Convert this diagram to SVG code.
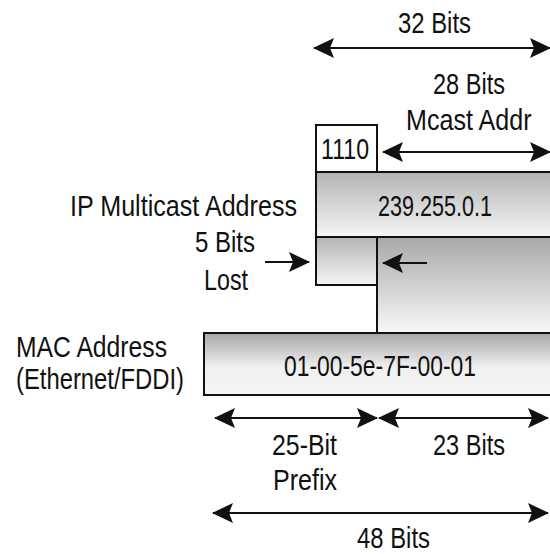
<svg xmlns="http://www.w3.org/2000/svg" width="550" height="554" viewBox="0 0 550 554">
  <style>
    text { font-family: "Liberation Sans Narrow", "Liberation Sans", Arial, sans-serif; font-size: 30px; fill: #111; }
    .box { stroke: #111; stroke-width: 2; }
    .dim { stroke: #111; stroke-width: 2; fill: none; }
  </style>
  <defs>
    <linearGradient id="gIp" x1="0" y1="0" x2="0" y2="1">
      <stop offset="0" stop-color="#b4b4b4"/>
      <stop offset="1" stop-color="#f6f6f6"/>
    </linearGradient>
    <linearGradient id="gTall" x1="0" y1="0" x2="0" y2="1">
      <stop offset="0" stop-color="#a8a8a8"/>
      <stop offset="1" stop-color="#f8f8f8"/>
    </linearGradient>
    <linearGradient id="gMac" x1="0" y1="0" x2="0" y2="1">
      <stop offset="0" stop-color="#a6a6a6"/>
      <stop offset="0.55" stop-color="#f0f0f0"/>
      <stop offset="1" stop-color="#f6f6f6"/>
    </linearGradient>
    <marker id="ah" viewBox="0 -10 22 20" refX="21" refY="0" markerWidth="22" markerHeight="20" markerUnits="userSpaceOnUse" orient="auto-start-reverse">
      <path d="M22,0 L1,-10 L5,0 L1,10 Z" fill="#111"/>
    </marker>
  </defs>

  <!-- IP multicast address field -->
  <g id="prefix1110">
    <rect class="box" x="316" y="125" width="61" height="47" fill="#fff"/>
    <text x="321" y="159" textLength="48" lengthAdjust="spacingAndGlyphs">1110</text>
  </g>
  <g id="ipAddress">
    <rect class="box" x="316" y="172" width="240" height="65" fill="url(#gIp)"/>
    <text x="378" y="216" textLength="114" lengthAdjust="spacingAndGlyphs">239.255.0.1</text>
  </g>
  <g id="lostBits">
    <rect class="box" x="316" y="237" width="61" height="48" fill="url(#gIp)"/>
  </g>
  <g id="lowBits">
    <rect class="box" x="377" y="237" width="180" height="96" fill="url(#gTall)"/>
  </g>

  <!-- MAC address field -->
  <g id="macAddress">
    <rect class="box" x="204" y="333" width="352" height="62" fill="url(#gMac)"/>
    <text x="284" y="376" textLength="192" lengthAdjust="spacingAndGlyphs">01-00-5e-7F-00-01</text>
  </g>

  <!-- side labels -->
  <g id="labels">
    <text x="70" y="216" textLength="227" lengthAdjust="spacingAndGlyphs">IP Multicast Address</text>
    <text x="195" y="252" textLength="60" lengthAdjust="spacingAndGlyphs">5 Bits</text>
    <text x="204" y="290" textLength="44" lengthAdjust="spacingAndGlyphs">Lost</text>
    <text x="16" y="357" textLength="151" lengthAdjust="spacingAndGlyphs">MAC Address</text>
    <text x="16" y="389" textLength="168" lengthAdjust="spacingAndGlyphs">(Ethernet/FDDI)</text>
    <text x="398" y="33" textLength="73" lengthAdjust="spacingAndGlyphs">32 Bits</text>
    <text x="433" y="94" textLength="72" lengthAdjust="spacingAndGlyphs">28 Bits</text>
    <text transform="translate(406,130) scale(0.837,1)" x="0" y="0">Mcast Addr</text>
    <text x="272" y="455" textLength="65" lengthAdjust="spacingAndGlyphs">25-Bit</text>
    <text x="273" y="490" textLength="64" lengthAdjust="spacingAndGlyphs">Prefix</text>
    <text x="433" y="455" textLength="72" lengthAdjust="spacingAndGlyphs">23 Bits</text>
    <text x="357" y="548" textLength="73" lengthAdjust="spacingAndGlyphs">48 Bits</text>
  </g>

  <!-- dimension arrows -->
  <g id="connectors">
    <line class="dim" x1="314" y1="48" x2="550" y2="48" marker-start="url(#ah)" marker-end="url(#ah)"/>
    <line class="dim" x1="383" y1="152" x2="550" y2="152" marker-start="url(#ah)" marker-end="url(#ah)"/>
    <line class="dim" x1="265" y1="262" x2="309" y2="262" marker-end="url(#ah)"/>
    <line class="dim" x1="427" y1="263" x2="383" y2="263" marker-end="url(#ah)"/>
    <line class="dim" x1="215" y1="418" x2="377" y2="418" marker-start="url(#ah)" marker-end="url(#ah)"/>
    <line class="dim" x1="379" y1="418" x2="548" y2="418" marker-start="url(#ah)" marker-end="url(#ah)"/>
    <line class="dim" x1="213" y1="513" x2="548" y2="513" marker-start="url(#ah)" marker-end="url(#ah)"/>
  </g>
</svg>
